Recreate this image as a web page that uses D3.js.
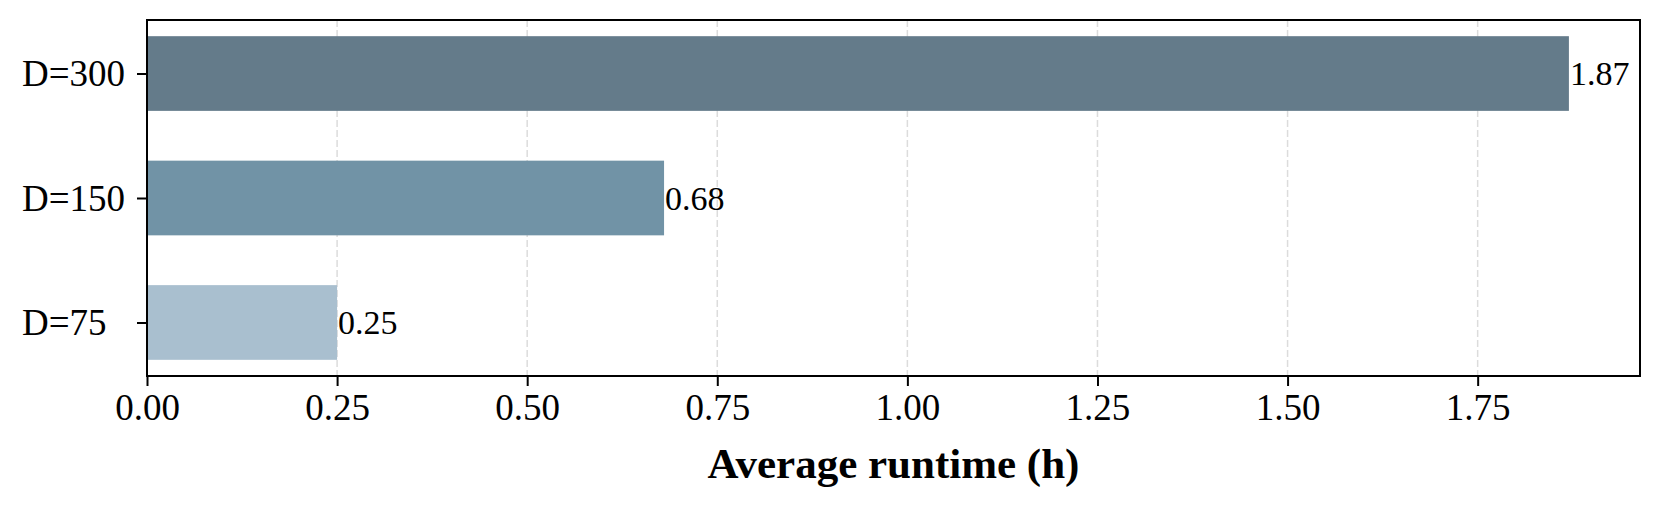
<!DOCTYPE html>
<html><head><meta charset="utf-8">
<script src="https://cdn.jsdelivr.net/npm/d3@7"></script>
<style>html,body{margin:0;padding:0;background:#fff;}svg{display:block;}</style>
</head><body>
<script>
const categories = ["D=75", "D=150", "D=300"];
const values = [0.25, 0.68, 1.87];
const barColors = ["#a9bfcf", "#7193a6", "#647b8a"];
const xTicks = [0, 0.25, 0.5, 0.75, 1.0, 1.25, 1.5, 1.75];
const xLabel = "Average runtime (h)";

const W = 1661, H = 505;
const m = {left: 147, right: 1640, top: 20, bottom: 376};
const svg = d3.select("body").append("svg").attr("width", W).attr("height", H);
const font = "'Liberation Serif', 'Times New Roman', serif";

const x = d3.scaleLinear().domain([0, d3.max(values) * 1.05]).range([m.left, m.right]);
// matplotlib-like: positions 0..n-1, bar height 0.6, 5% margins
const n = categories.length, bh = 0.6;
const lo = -bh / 2, hi = (n - 1) + bh / 2, pad = (hi - lo) * 0.05;
const y = d3.scaleLinear().domain([lo - pad, hi + pad]).range([m.bottom, m.top]);

// grid
svg.append("g").selectAll("line").data(xTicks).join("line")
  .attr("x1", d => x(d)).attr("x2", d => x(d))
  .attr("y1", m.top).attr("y2", m.bottom)
  .attr("stroke", "#dcdcdc").attr("stroke-width", 1.5).attr("stroke-dasharray", "7,3");

// bars
svg.append("g").selectAll("rect").data(values).join("rect")
  .attr("x", x(0)).attr("width", d => x(d) - x(0))
  .attr("y", (d, i) => y(i + bh / 2)).attr("height", (d, i) => y(i - bh / 2) - y(i + bh / 2))
  .attr("fill", (d, i) => barColors[i]);

// value labels
svg.append("g").selectAll("text").data(values).join("text")
  .attr("x", d => x(d) + 1).attr("y", (d, i) => y(i))
  .attr("dy", "0.35em")
  .attr("font-family", font).attr("font-size", 34).attr("fill", "#000")
  .text(d => d.toFixed(2));

// x axis
const xa = svg.append("g").attr("transform", `translate(0,${m.bottom})`)
  .call(d3.axisBottom(x).tickValues(xTicks).tickFormat(d3.format(".2f")).tickSize(10).tickSizeOuter(0));
xa.select(".domain").remove();
xa.selectAll(".tick line").attr("stroke", "#000").attr("stroke-width", 2);
xa.selectAll(".tick text").attr("font-family", font).attr("font-size", 37).attr("fill", "#000").attr("dy", "0.71em").attr("y", 18);

// y axis
const ya = svg.append("g").attr("transform", `translate(${m.left},0)`)
  .call(d3.axisLeft(y).tickValues(d3.range(n)).tickFormat(i => categories[i]).tickSize(10).tickSizeOuter(0));
ya.select(".domain").remove();
ya.selectAll(".tick line").attr("stroke", "#000").attr("stroke-width", 2);
ya.selectAll(".tick text").attr("font-family", font).attr("font-size", 37).attr("fill", "#000")
  .attr("text-anchor", "start").attr("x", 22 - m.left).attr("dy", "0.33em");

// frame
svg.append("rect").attr("x", m.left).attr("y", m.top)
  .attr("width", m.right - m.left).attr("height", m.bottom - m.top)
  .attr("fill", "none").attr("stroke", "#000").attr("stroke-width", 2);

// x label
svg.append("text").attr("x", (m.left + m.right) / 2).attr("y", 478)
  .attr("text-anchor", "middle").attr("font-family", font).attr("font-weight", "bold")
  .attr("font-size", 43).attr("fill", "#000").text(xLabel);
</script>
</body></html>
